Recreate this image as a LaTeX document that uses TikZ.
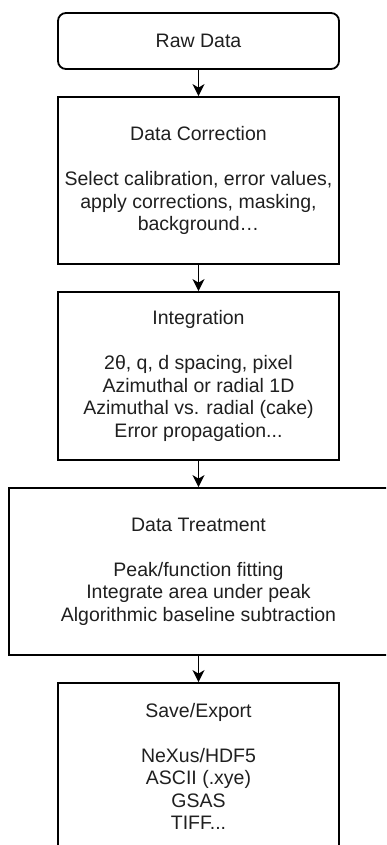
\documentclass[tikz,border=0pt]{standalone}
\usepackage{fontspec}
\setmainfont{Liberation Sans}
\usetikzlibrary{arrows.meta}

\begin{document}
\begin{tikzpicture}[x=1pt,y=-1pt,
	box/.style={draw,line width=1.8pt,align=center,minimum width=281pt,inner sep=0pt,
		text=black!88,font=\fontsize{19.5}{22.5}\selectfont},
	arr/.style={-{Stealth[length=12pt,width=12pt,inset=3.5pt]},line width=1.6pt}]
	\useasboundingbox (0,0) rectangle (386,845);
	\clip (0,0) rectangle (386,845);
	\node[box,rounded corners=8pt,minimum height=56pt] (raw) at (198.5,41) {Raw Data};
	\node[box,minimum height=167pt] (corr) at (198.5,180.5)
		{Data Correction\\[22.5pt]Select calibration, error values,\\apply corrections, masking,\\background…};
	\node[box,minimum height=168pt] (integ) at (198.5,376)
		{Integration\\[22.5pt]2θ, q, d spacing, pixel\\Azimuthal or radial 1D\\Azimuthal vs. radial (cake)\\Error propagation...};
	\node[box,minimum width=379pt,minimum height=167pt] (treat) at (198.5,571.5)
		{Data Treatment\\[22.5pt]Peak/function fitting\\Integrate area under peak\\Algorithmic baseline subtraction};
	\node[box,minimum height=167pt] (save) at (198.5,766.5)
		{Save/Export\\[22.5pt]NeXus/HDF5\\ASCII (.xye)\\GSAS\\TIFF...};
	\draw[arr] (raw) -- (corr);
	\draw[arr] (corr) -- (integ);
	\draw[arr] (integ) -- (treat);
	\draw[arr] (treat) -- (save);
\end{tikzpicture}
\end{document}
